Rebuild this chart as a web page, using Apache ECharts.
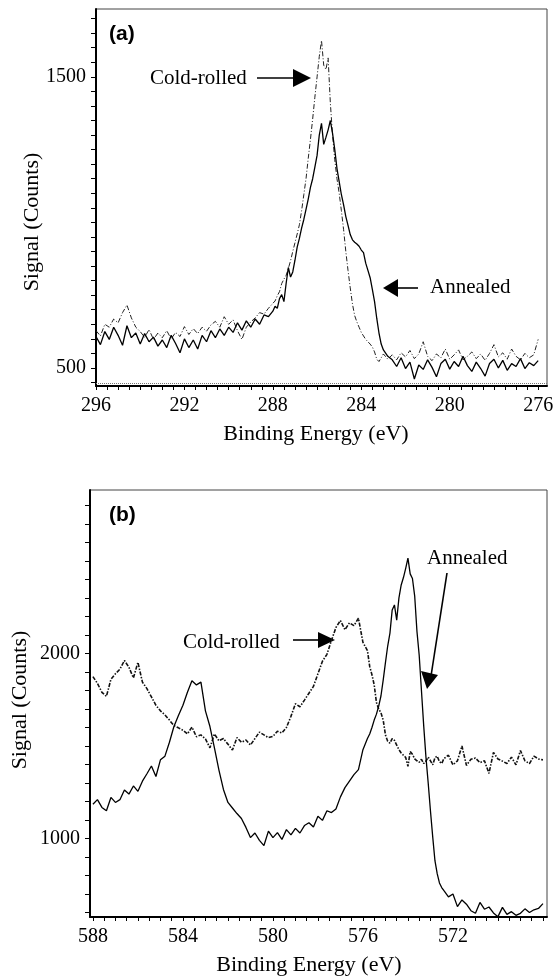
<!DOCTYPE html>
<html>
<head>
<meta charset="utf-8">
<script src="https://cdn.jsdelivr.net/npm/echarts@6/dist/echarts.min.js"></script>
<style>
  html, body { margin: 0; padding: 0; background: #ffffff; }
  #main { width: 560px; height: 977px; }
</style>
</head>
<body>
<div id="main"></div>
<script>
// (a) C 1s region
var energyA = [
  296, 295.8, 295.6, 295.4, 295.2, 295, 294.8, 294.6, 294.4, 294.2,
  294, 293.8, 293.6, 293.4, 293.2, 293, 292.8, 292.6, 292.4, 292.2,
  292, 291.8, 291.6, 291.4, 291.2, 291, 290.8, 290.6, 290.4, 290.2,
  290, 289.8, 289.6, 289.4, 289.2, 289, 288.8, 288.6, 288.4, 288.2,
  288, 287.9, 287.8, 287.7, 287.6, 287.5, 287.4, 287.3, 287.2, 287.1,
  287, 286.9, 286.8, 286.7, 286.6, 286.5, 286.4, 286.3, 286.2, 286.1,
  286, 285.9, 285.8, 285.7, 285.6, 285.5, 285.4, 285.3, 285.2, 285.1,
  285, 284.9, 284.8, 284.7, 284.6, 284.5, 284.4, 284.3, 284.2, 284.1,
  284, 283.9, 283.8, 283.7, 283.6, 283.5, 283.4, 283.3, 283.2, 283.1,
  283,
  282.8, 282.6, 282.4, 282.2, 282, 281.8, 281.6, 281.4, 281.2, 281,
  280.8, 280.6, 280.4, 280.2, 280, 279.8, 279.6, 279.4, 279.2, 279,
  278.8, 278.6, 278.4, 278.2, 278, 277.8, 277.6, 277.4, 277.2, 277,
  276.8, 276.6, 276.4, 276.2, 276
];
var annealedA = [
  608, 580, 625, 598, 640, 612, 578, 645, 604, 620,
  582, 618, 590, 606, 575, 596, 570, 612, 584, 552,
  600, 570, 596, 565, 612, 590, 628, 604, 634, 612,
  640, 622, 655, 630, 662, 640, 668, 650, 682, 676,
  695, 712, 705, 738, 752, 728, 790, 845, 812, 830,
  870, 915, 945, 980, 1010, 1045, 1080, 1120, 1150, 1190,
  1230, 1300, 1340, 1268, 1292, 1318, 1350, 1306, 1250, 1185,
  1140, 1095, 1060, 1020, 990, 958, 940, 932, 926, 918,
  905, 896, 860, 835, 810, 770, 728, 670, 620, 582,
  562,
  540, 528, 505, 535, 498, 520, 462, 510, 495, 528,
  502, 470, 515, 530, 496, 522, 505, 540, 508, 488,
  520, 498, 472, 515, 530, 500, 526, 492, 515, 505,
  532, 498, 518, 508, 525
];
var coldA = [
  628, 610, 650, 640, 668, 655, 690, 716, 672, 640,
  625, 605, 632, 598, 620, 604, 628, 600, 622, 608,
  642, 615, 635, 618, 640, 626, 648, 660, 640, 676,
  650, 665, 628, 598, 640, 658, 672, 690, 685, 705,
  722, 730, 748, 762, 790, 805, 818, 842, 868, 900,
  930, 960, 992, 1040, 1095, 1150, 1220, 1285, 1355, 1430,
  1500, 1570, 1625, 1540, 1525, 1565, 1410, 1300, 1215, 1150,
  1100, 1040, 975, 900, 835, 775, 720, 680, 658, 640,
  622, 610, 598, 590, 582, 572, 555, 530, 522, 535,
  548,
  530, 545, 528, 552, 538, 560, 532, 548, 590, 540,
  525, 548, 535, 565, 530, 545, 562, 528, 540, 555,
  532, 548, 526, 550, 580, 538, 552, 530, 565, 540,
  528, 550, 535, 545, 598
];

// (b) Cr 2p region
var energyB = [
  588, 587.8, 587.6, 587.4, 587.2, 587, 586.8, 586.6, 586.4, 586.2,
  586, 585.8, 585.6, 585.4, 585.2, 585, 584.8, 584.6, 584.4, 584.2,
  584, 583.8, 583.6, 583.4, 583.2, 583, 582.8, 582.6, 582.4, 582.2,
  582, 581.8, 581.6, 581.4, 581.2, 581, 580.8, 580.6, 580.4, 580.2,
  580, 579.8, 579.6, 579.4, 579.2, 579, 578.8, 578.6, 578.4, 578.2,
  578, 577.8, 577.6, 577.4, 577.2, 577, 576.8, 576.6, 576.4, 576.2,
  576, 575.8,
  575.7, 575.6, 575.5, 575.4, 575.3, 575.2, 575.1, 575, 574.9, 574.8,
  574.7, 574.6, 574.5, 574.4, 574.3, 574.2, 574.1, 574, 573.9, 573.8,
  573.7, 573.6, 573.5, 573.4, 573.3, 573.2, 573.1, 573, 572.9, 572.8,
  572.7, 572.6, 572.5, 572.4,
  572.2, 572, 571.8, 571.6, 571.4, 571.2, 571, 570.8, 570.6, 570.4,
  570.2, 570, 569.8, 569.6, 569.4, 569.2, 569, 568.8, 568.6, 568.4,
  568.2, 568
];
var annealedB = [
  1185, 1210, 1168, 1150, 1222, 1195, 1210, 1262, 1240, 1284,
  1255, 1310, 1350, 1392, 1335, 1425, 1445, 1520, 1605, 1665,
  1720, 1790, 1852, 1830, 1845, 1690, 1605, 1490, 1370, 1265,
  1195, 1165, 1135, 1108, 1060, 1005, 1030, 990, 962, 1040,
  1005, 1032, 995, 1048, 1020, 1055, 1030, 1070, 1085, 1062,
  1120, 1098, 1150, 1140, 1160, 1225, 1275, 1310, 1345, 1372,
  1480, 1540,
  1565, 1600, 1640, 1672, 1715, 1770, 1856, 1950, 2040, 2110,
  2235, 2262, 2180, 2300, 2370, 2410, 2460, 2515, 2430, 2405,
  2310, 2120, 1990, 1800, 1610, 1440, 1300, 1150, 1010, 880,
  810, 760, 735, 718,
  685, 700, 632, 668, 645, 610, 596, 655, 618, 630,
  598, 578, 628, 590, 605, 585, 596, 620, 600, 615,
  622, 648
];
var coldB = [
  1875, 1838, 1790, 1768, 1860, 1890, 1915, 1962, 1925, 1868,
  1952, 1845, 1810, 1765, 1720, 1690, 1668, 1640, 1610, 1598,
  1585, 1565, 1602, 1550, 1560, 1538, 1490, 1565, 1528, 1540,
  1510, 1478, 1545, 1520, 1532, 1505, 1540, 1575, 1560, 1545,
  1552, 1580, 1570, 1600, 1660, 1728, 1712, 1748, 1785, 1822,
  1890, 1958, 1995, 2070, 2140, 2178, 2128, 2165, 2150, 2190,
  2060, 2015,
  1930, 1885, 1830, 1735, 1700, 1680, 1640, 1560, 1525, 1515,
  1540, 1530, 1505, 1480, 1462, 1450, 1438, 1390, 1470, 1455,
  1430, 1420, 1412, 1428, 1405, 1418, 1440, 1420, 1398, 1436,
  1445, 1415, 1405, 1432,
  1450, 1398, 1420, 1500, 1395, 1428, 1435, 1410, 1420, 1352,
  1465, 1430, 1418, 1405, 1440, 1398, 1475, 1420, 1405, 1445,
  1430, 1425
];

var labelsA = [296, 292, 288, 284, 280, 276];
var labelsB = [588, 584, 580, 576, 572];
var yLabelsA = [500, 1500];
var yLabelsB = [1000, 2000];
var baselineA = 448;

var serif = "'Liberation Serif', 'DejaVu Serif', serif";

function pairs(xs, ys) {
  return xs.map(function (x, i) { return [x, ys[i]]; });
}
function steps(from, to, step) {
  var out = [];
  for (var v = from; v <= to + 1e-9; v += step) out.push(Math.round(v * 10) / 10);
  return out;
}
function plain(v) { return String(v); }

function xAxisFor(grid, min, max, labels) {
  return {
    type: 'value', gridIndex: grid, inverse: true, min: min, max: max,
    axisLine: { show: true, lineStyle: { color: '#000', width: 2 } },
    axisTick: { show: true, length: 4, customValues: steps(Math.ceil(min), Math.floor(max), 0.5), lineStyle: { color: '#000', width: 1 } },
    axisLabel: { customValues: labels, formatter: plain, margin: 10, color: '#000', fontFamily: serif, fontSize: 20 },
    splitLine: { show: false }
  };
}
function yAxisFor(grid, min, max, labels, tickStep) {
  return {
    type: 'value', gridIndex: grid, min: min, max: max,
    axisLine: { show: true, lineStyle: { color: '#000', width: 2 } },
    axisTick: { show: true, length: 5, customValues: steps(Math.ceil(min / tickStep) * tickStep, max, tickStep), lineStyle: { color: '#000', width: 1 } },
    axisLabel: { customValues: labels, formatter: plain, margin: 10, color: '#000', fontFamily: serif, fontSize: 20 },
    splitLine: { show: false }
  };
}

function arrow(x1, y1, x2, y2, head) {
  return [
    { type: 'line', shape: { x1: x1, y1: y1, x2: x2, y2: y2 }, style: { stroke: '#000', lineWidth: 1.6 } },
    { type: 'polygon', shape: { points: head }, style: { fill: '#000' } }
  ];
}
function label(text, x, y, opts) {
  opts = opts || {};
  return {
    type: 'text', x: x, y: y, rotation: opts.rotation || 0,
    style: {
      text: text, fill: '#000',
      font: (opts.bold ? 'bold ' : '') + (opts.size || 20) + 'px ' + (opts.family || serif),
      textAlign: opts.align || 'left', textVerticalAlign: 'middle'
    }
  };
}

var chart = echarts.init(document.getElementById('main'));

var graphics = [
  label('(a)', 109, 34, { bold: true, size: 21, family: "'Liberation Sans', Arial, sans-serif" }),
  label('(b)', 109, 515, { bold: true, size: 21, family: "'Liberation Sans', Arial, sans-serif" }),
  label('Cold-rolled', 150, 78, { size: 21 }),
  label('Annealed', 430, 287, { size: 21 }),
  label('Cold-rolled', 183, 642, { size: 21 }),
  label('Annealed', 427, 558, { size: 21 }),
  label('Signal (Counts)', 32, 222, { size: 22, align: 'center', rotation: Math.PI / 2 }),
  label('Signal (Counts)', 20, 700, { size: 22, align: 'center', rotation: Math.PI / 2 }),
  label('Binding Energy (eV)', 316, 434, { size: 22, align: 'center' }),
  label('Binding Energy (eV)', 309, 965, { size: 22, align: 'center' })
]
  .concat(arrow(257, 78, 296, 78, [[293, 69], [311, 78], [293, 87]]))
  .concat(arrow(418, 288, 396, 288, [[398, 279], [383, 288], [398, 297]]))
  .concat(arrow(293, 640, 320, 640, [[318, 632], [335, 640], [318, 648]]))
  .concat(arrow(447, 573, 431, 676, [[421, 671], [438, 675], [427, 689]]));

var option = {
  animation: false,
  backgroundColor: '#fff',
  grid: [
    { left: 96, right: 13, top: 9, height: 377, show: true, borderColor: '#444', borderWidth: 1 },
    { left: 90, right: 13, top: 490, height: 427, show: true, borderColor: '#444', borderWidth: 1 }
  ],
  xAxis: [
    xAxisFor(0, 275.6, 296, labelsA),
    xAxisFor(1, 567.82, 588.13, labelsB)
  ],
  yAxis: [
    yAxisFor(0, 438, 1733, yLabelsA, 50),
    yAxisFor(1, 576, 2883, yLabelsB, 100)
  ],
  graphic: graphics,
  series: [
    {
      name: 'Cold-rolled', type: 'line', xAxisIndex: 0, yAxisIndex: 0,
      data: pairs(energyA, coldA), showSymbol: false, z: 2,
      lineStyle: { color: '#222', width: 1, type: [5, 2, 1, 2] },
      markLine: {
        silent: true, symbol: 'none', label: { show: false },
        lineStyle: { color: '#777', width: 1, type: 'dotted' },
        data: [{ yAxis: baselineA }]
      }
    },
    {
      name: 'Annealed', type: 'line', xAxisIndex: 0, yAxisIndex: 0,
      data: pairs(energyA, annealedA), showSymbol: false, z: 3,
      lineStyle: { color: '#000', width: 1.3 }
    },
    {
      name: 'Cold-rolled', type: 'line', xAxisIndex: 1, yAxisIndex: 1,
      data: pairs(energyB, coldB), showSymbol: false, z: 2,
      lineStyle: { color: '#111', width: 1.6, type: [4, 1.5, 1.5, 1.5] }
    },
    {
      name: 'Annealed', type: 'line', xAxisIndex: 1, yAxisIndex: 1,
      data: pairs(energyB, annealedB), showSymbol: false, z: 3,
      lineStyle: { color: '#000', width: 1.3 }
    }
  ]
};

chart.setOption(option);
</script>
</body>
</html>
